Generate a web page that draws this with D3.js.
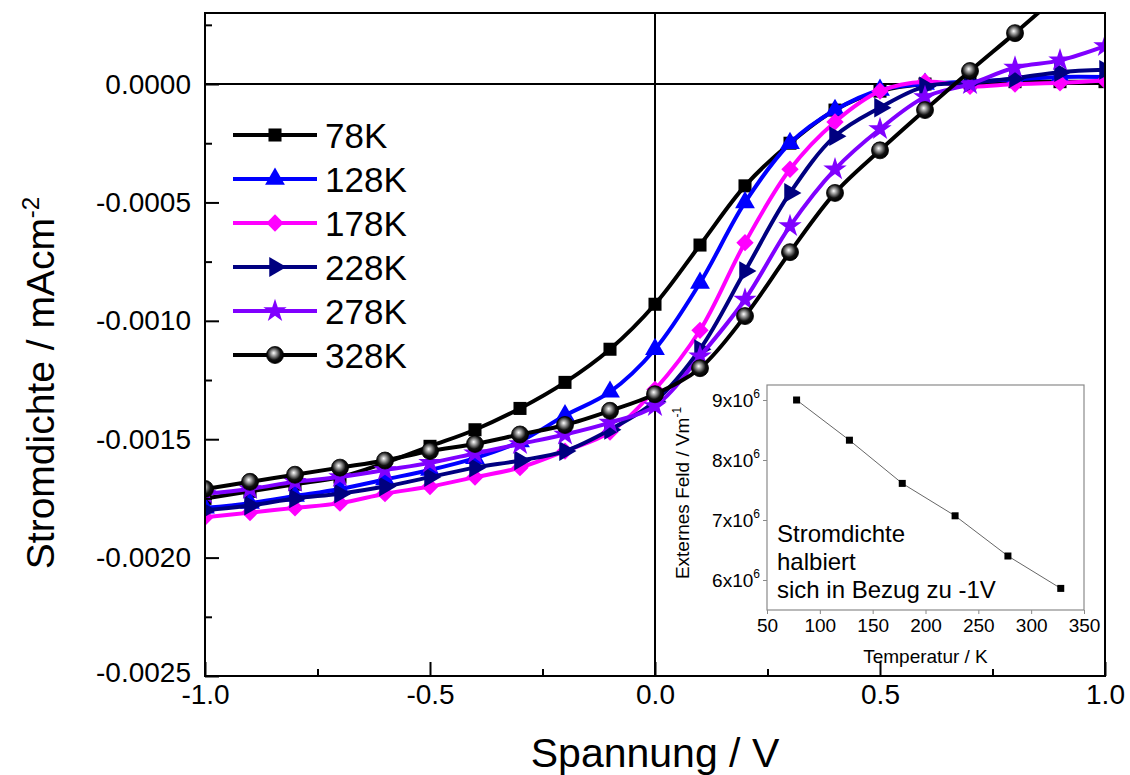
<!DOCTYPE html>
<html>
<head>
<meta charset="utf-8">
<script src="https://cdn.jsdelivr.net/npm/d3@7"></script>
<style>
  html, body { margin: 0; padding: 0; background: #fff; }
  svg { display: block; font-family: "Liberation Sans", Arial, sans-serif; }
</style>
</head>
<body>
<svg id="chart" width="1130" height="775"></svg>
<script>
// Voltage sweep (V)
const voltage = [-1.0, -0.9, -0.8, -0.7, -0.6, -0.5, -0.4, -0.3, -0.2, -0.1, 0.0,
                 0.1, 0.2, 0.3, 0.4, 0.5, 0.6, 0.7, 0.8, 0.9, 1.0];

// Current density (mA/cm^2) per temperature
const j78  = [-0.00175, -0.00172, -0.00169, -0.00166, -0.00160, -0.00153, -0.00146, -0.00137, -0.00126, -0.00112, -0.00093,
              -0.00068, -0.00043, -0.00025, -0.00011, -0.00003, 0.0, 0.000005, 0.00001, 0.00001, 0.00001];
const j128 = [-0.00179, -0.00177, -0.00174, -0.00171, -0.00167, -0.00163, -0.00158, -0.00151, -0.00140, -0.00130, -0.00112,
              -0.00084, -0.00050, -0.00025, -0.00011, -0.000025, 0.0, 0.00001, 0.00002, 0.00003, 0.00003];
const j178 = [-0.00183, -0.00181, -0.00179, -0.00177, -0.00173, -0.00170, -0.00166, -0.00162, -0.00155, -0.00147, -0.00129,
              -0.00104, -0.00067, -0.00036, -0.00016, -0.00003, 0.00001, -0.00001, 0.0, 0.000005, 0.000015];
const j228 = [-0.00180, -0.00178, -0.00175, -0.00173, -0.00170, -0.00166, -0.00162, -0.00159, -0.00155, -0.00146, -0.00134,
              -0.00112, -0.00079, -0.00046, -0.00022, -0.00010, -0.00001, 0.000005, 0.000025, 0.00005, 0.00006];
const j278 = [-0.00173, -0.00171, -0.00168, -0.00166, -0.00163, -0.00160, -0.00156, -0.00152, -0.00148, -0.00143, -0.00136,
              -0.00115, -0.00091, -0.00060, -0.00036, -0.00019, -0.000055, 0.0, 0.00007, 0.00010, 0.00016];
const j328 = [-0.00171, -0.00168, -0.00165, -0.00162, -0.00159, -0.00155, -0.00152, -0.00148, -0.00144, -0.00138, -0.00131,
              -0.00120, -0.00098, -0.00071, -0.00046, -0.00028, -0.00011, 0.000055, 0.000215, 0.00038, 0.00054];

const seriesNames   = ["78K", "128K", "178K", "228K", "278K", "328K"];
const seriesValues  = [j78, j128, j178, j228, j278, j328];
const seriesColors  = ["#000000", "#0000ff", "#ff00ff", "#000080", "#8000ff", "#000000"];
const seriesSymbols = ["square", "triangle", "diamond", "rightTriangle", "star", "ball"];

// Main axes ticks
const xMajorTicks = [-1.0, -0.5, 0.0, 0.5, 1.0];
const xMinorTicks = [-0.75, -0.25, 0.25, 0.75];
const yMajorTicks = [-0.0025, -0.0020, -0.0015, -0.0010, -0.0005, 0.0];
const yMinorTicks = [-0.00225, -0.00175, -0.00125, -0.00075, -0.00025, 0.00025];

// Inset: field at which current density halves relative to -1 V
const insetTemps  = [78, 128, 178, 228, 278, 328];
const insetField  = [9.0e6, 8.33e6, 7.61e6, 7.07e6, 6.40e6, 5.86e6];
const insetXTicks = [50, 100, 150, 200, 250, 300, 350];
const insetYTicks = [6e6, 7e6, 8e6, 9e6];
const insetNote   = ["Stromdichte", "halbiert", "sich in Bezug zu -1V"];

const svg = d3.select("#chart");
const FONT = '"Liberation Sans", Arial, sans-serif';

// ---------- main plot ----------
const plot = { left: 205, right: 1105, top: 13, bottom: 676 };
const x = d3.scaleLinear().domain([-1, 1]).range([plot.left, plot.right]);
const y = d3.scaleLinear().domain([-0.0025, 0.0003]).range([plot.bottom, plot.top]);

const defs = svg.append("defs");
defs.append("clipPath").attr("id", "plotClip")
  .append("rect")
  .attr("x", plot.left).attr("y", plot.top)
  .attr("width", plot.right - plot.left).attr("height", plot.bottom - plot.top);

const grad = defs.append("radialGradient").attr("id", "ballGrad")
  .attr("cx", "45%").attr("cy", "42%").attr("r", "55%").attr("fx", "42%").attr("fy", "38%");
grad.append("stop").attr("offset", "0%").attr("stop-color", "#ffffff");
grad.append("stop").attr("offset", "30%").attr("stop-color", "#9a9a9a");
grad.append("stop").attr("offset", "70%").attr("stop-color", "#111111");
grad.append("stop").attr("offset", "100%").attr("stop-color", "#000000");

// zero reference lines
svg.append("line")
  .attr("x1", plot.left).attr("x2", plot.right)
  .attr("y1", y(0)).attr("y2", y(0))
  .attr("stroke", "#000").attr("stroke-width", 2);
svg.append("line")
  .attr("x1", x(0)).attr("x2", x(0))
  .attr("y1", plot.top).attr("y2", plot.bottom)
  .attr("stroke", "#000").attr("stroke-width", 2);

// marker drawing
function drawMarker(g, kind, color, cx, cy, scale) {
  const s = scale || 1;
  if (kind === "ball") {
    g.append("circle").attr("cx", cx).attr("cy", cy).attr("r", 8.5 * s)
      .attr("fill", "url(#ballGrad)").attr("stroke", "#000").attr("stroke-width", 0.8);
    return;
  }
  let type, size, rot = 0;
  if (kind === "square")        { type = d3.symbolSquare;   size = 170; }
  if (kind === "triangle")      { type = d3.symbolTriangle; size = 170; }
  if (kind === "diamond")       { type = d3.symbolSquare;   size = 150; rot = 45; }
  if (kind === "rightTriangle") { type = d3.symbolTriangle; size = 170; rot = 90; }
  if (kind === "star")          { type = d3.symbolStar;     size = 170; }
  g.append("path")
    .attr("d", d3.symbol().type(type).size(size * s * s)())
    .attr("transform", `translate(${cx},${cy}) rotate(${rot})`)
    .attr("fill", color);
}

const dataLayer = svg.append("g").attr("clip-path", "url(#plotClip)");
const lineGen = d3.line()
  .x((d, i) => x(voltage[i]))
  .y(d => y(d))
  .curve(d3.curveCatmullRom.alpha(0.5));

seriesValues.forEach((vals, k) => {
  const g = dataLayer.append("g");
  g.append("path")
    .datum(vals)
    .attr("d", lineGen)
    .attr("fill", "none")
    .attr("stroke", seriesColors[k])
    .attr("stroke-width", 4)
    .attr("stroke-linejoin", "round");
  vals.forEach((v, i) => drawMarker(g, seriesSymbols[k], seriesColors[k], x(voltage[i]), y(v)));
});

// frame
svg.append("rect")
  .attr("x", plot.left).attr("y", plot.top)
  .attr("width", plot.right - plot.left).attr("height", plot.bottom - plot.top)
  .attr("fill", "none").attr("stroke", "#000").attr("stroke-width", 2);

// axes (ticks point inward)
const fmtY = d => d.toFixed(4);
const fmtX = d => d.toFixed(1);

const yAxis = svg.append("g").attr("transform", `translate(${plot.left},0)`)
  .call(d3.axisLeft(y).tickValues(yMajorTicks).tickSize(-14).tickPadding(14).tickFormat(fmtY));
svg.append("g").attr("transform", `translate(${plot.left},0)`)
  .call(d3.axisLeft(y).tickValues(yMinorTicks).tickSize(-7).tickFormat(""));

const xAxis = svg.append("g").attr("transform", `translate(0,${plot.bottom})`)
  .call(d3.axisBottom(x).tickValues(xMajorTicks).tickSize(-14).tickPadding(8).tickFormat(fmtX));
svg.append("g").attr("transform", `translate(0,${plot.bottom})`)
  .call(d3.axisBottom(x).tickValues(xMinorTicks).tickSize(-7).tickFormat(""));

svg.selectAll(".domain").remove();
svg.selectAll(".tick line").attr("stroke", "#000").attr("stroke-width", 2);
yAxis.selectAll("text").attr("font-size", 28).attr("font-family", FONT).attr("fill", "#000");
xAxis.selectAll("text").attr("font-size", 28).attr("font-family", FONT).attr("fill", "#000");
// lowest y label sits just above the x labels at the corner
yAxis.selectAll("text").filter(d => d === -0.0025).attr("dy", "0.2em");

// axis titles
svg.append("text")
  .attr("x", x(0)).attr("y", 767)
  .attr("text-anchor", "middle")
  .attr("font-size", 41).attr("fill", "#000")
  .text("Spannung / V");

const yTitle = svg.append("text")
  .attr("transform", `translate(54,${383}) rotate(-90)`)
  .attr("text-anchor", "middle")
  .attr("font-size", 39).attr("fill", "#000");
yTitle.append("tspan").text("Stromdichte / mAcm");
yTitle.append("tspan").attr("font-size", 24).attr("dy", -15).text("-2");

// legend
const legend = svg.append("g");
const legendRowY = d3.scaleLinear().domain([0, 5]).range([135, 355]);
seriesNames.forEach((name, k) => {
  const ly = legendRowY(k);
  legend.append("line")
    .attr("x1", 233).attr("x2", 317).attr("y1", ly).attr("y2", ly)
    .attr("stroke", seriesColors[k]).attr("stroke-width", 4);
  drawMarker(legend, seriesSymbols[k], seriesColors[k], 275, ly);
  legend.append("text")
    .attr("x", 325).attr("y", ly + 12.5)
    .attr("font-size", 35).attr("fill", "#000")
    .text(name);
});

// ---------- inset ----------
const inset = { left: 767, right: 1084, top: 385, bottom: 610 };
const ix = d3.scaleLinear().domain([50, 350]).range([inset.left, inset.right]);
const iy = d3.scaleLinear().domain([5.5e6, 9.25e6]).range([inset.bottom, inset.top]);

const ig = svg.append("g");
ig.append("rect")
  .attr("x", inset.left).attr("y", inset.top)
  .attr("width", inset.right - inset.left).attr("height", inset.bottom - inset.top)
  .attr("fill", "#fff").attr("stroke", "#8a8a8a").attr("stroke-width", 1.2);

ig.append("path")
  .datum(insetField)
  .attr("d", d3.line().x((d, i) => ix(insetTemps[i])).y(d => iy(d)))
  .attr("fill", "none").attr("stroke", "#666").attr("stroke-width", 1);
ig.selectAll("rect.pt").data(insetField).enter().append("rect")
  .attr("class", "pt")
  .attr("x", (d, i) => ix(insetTemps[i]) - 3.5)
  .attr("y", d => iy(d) - 3.5)
  .attr("width", 7).attr("height", 7)
  .attr("fill", "#000");

const ixAxis = ig.append("g").attr("transform", `translate(0,${inset.bottom})`)
  .call(d3.axisBottom(ix).tickValues(insetXTicks).tickSize(4).tickPadding(5).tickFormat(d => d));
const iyAxis = ig.append("g").attr("transform", `translate(${inset.left},0)`)
  .call(d3.axisLeft(iy).tickValues(insetYTicks).tickSize(4).tickPadding(3).tickFormat(""));
ixAxis.select(".domain").remove();
iyAxis.select(".domain").remove();
ig.selectAll(".tick line").attr("stroke", "#8a8a8a").attr("stroke-width", 1);
ixAxis.selectAll("text").attr("font-size", 19).attr("font-family", FONT).attr("fill", "#000");

// y tick labels with superscript exponent
iyAxis.selectAll(".tick").each(function (d) {
  const t = d3.select(this).select("text")
    .attr("font-size", 19).attr("font-family", FONT).attr("fill", "#000")
    .attr("x", -7).attr("dy", "0.35em").attr("text-anchor", "end");
  t.append("tspan").text(`${d / 1e6}x10`);
  t.append("tspan").attr("font-size", 12).attr("dy", -9).text("6");
});

ig.append("text")
  .attr("x", ix(200)).attr("y", 663)
  .attr("text-anchor", "middle").attr("font-size", 19).attr("fill", "#000")
  .text("Temperatur / K");

const iyTitle = ig.append("text")
  .attr("transform", `translate(${689},${iy(7.45e6)}) rotate(-90)`)
  .attr("text-anchor", "middle").attr("font-size", 19).attr("fill", "#000");
iyTitle.append("tspan").text("Externes Feld / Vm");
iyTitle.append("tspan").attr("font-size", 12).attr("dy", -8).text("-1");

insetNote.forEach((line, i) => {
  ig.append("text")
    .attr("x", 777).attr("y", 542 + i * 28)
    .attr("font-size", 24).attr("fill", "#000")
    .text(line);
});
</script>
</body>
</html>
